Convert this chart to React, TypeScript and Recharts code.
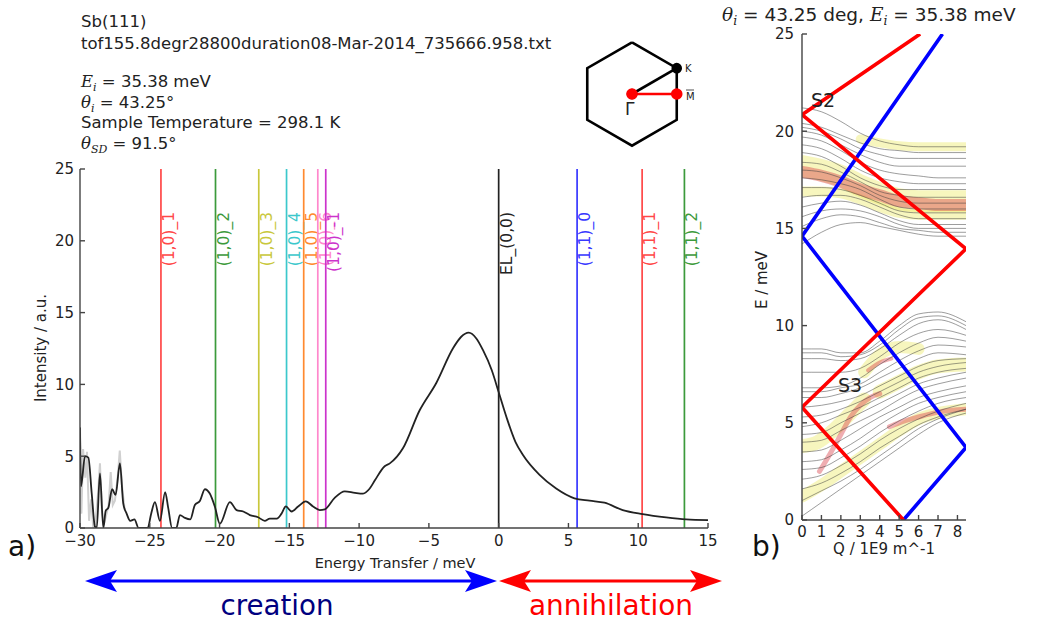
import React from 'react';
import { ComposedChart, Line, XAxis, YAxis, ReferenceLine } from 'recharts';

// ---------------- Panel a) data ----------------
const energyTransfer = [
  -30, -29.93, -29.64, -29.4, -29.16, -28.93, -28.8, -28.57, -28.33, -28.16, -27.97, -27.7, -27.45,
  -27.14, -26.9, -26.66, -26.4, -26.1, -25.8, -25.15, -24.9, -24.63, -24.27, -23.9, -23.68, -23.4,
  -23.1, -22.84, -22.48, -22.1, -21.77, -21.4, -21.05, -20.7, -20.34, -19.98, -19.26, -18.78, -18.3,
  -17.83, -17.24, -16.76, -16.4, -15.9, -15.56, -15.25, -14.84, -14.37, -13.82, -13.3, -12.82, -12.46,
  -11.75, -11.03, -10.3, -9.72, -9.24, -8.88, -8.17, -7.8, -6.86, -5.66, -4.47, -3.28, -2.7, -2.15,
  -1.6, -1.13, -0.5, 0.02, 0.6, 1.2, 1.73, 2.93, 4.12, 5.43, 6.51, 7.58, 8.89, 10.32, 12.0, 13.43, 15,
];
const intensity = [
  7.0, 2.9, 5.0, 4.9, 2.4, 0.1, 0, 3.8, 0, 1.2, 1.4, 2.7, 2.3,
  4.5, 1.7, 1.0, 0.5, 0.6, 0, 0, 1.0, 1.8, 0.5, 2.5, 1.4, 0,
  0, 0.9, 0.7, 0.6, 1.6, 1.9, 2.7, 2.4, 1.5, 0.3, 1.8, 1.25, 1.15,
  0.9, 0.75, 0.5, 0.65, 0.65, 1.0, 1.5, 1.15, 1.5, 1.85, 1.5, 1.25, 1.3,
  2.1, 2.55, 2.45, 2.4, 2.75, 3.3, 4.3, 4.5, 5.55, 8.2, 10.1, 12.5, 13.3, 13.6,
  13.2, 12.4, 11.0, 9.4, 7.6, 6.0, 5.1, 3.7, 2.75, 2.07, 1.9, 1.76, 1.25, 0.97, 0.74, 0.6, 0.55,
];
const noiseEnergy = [-30, -29.9, -29.78, -29.62, -29.5, -29.35, -29.2, -29.05, -28.9, -28.7, -28.57, -28.45, -28.3, -28.15, -27.95, -27.8, -27.65, -27.5, -27.3, -27.15, -27.0, -26.8];
const noiseIntensity = [7, 1, 5.5, 3.5, 5.3, 0.5, 2.0, 0, 0.3, 2.5, 4.5, 1.5, 0.2, 0.8, 1.6, 3.9, 1.6, 1.9, 3.5, 5.4, 3.0, 1.3];

const modeNames = ['(1,0)_1', '(1,0)_2', '(1,0)_3', '(1,0)_4', '(1,0)_5', '(1,0)_6', '(1,0)_-1', 'EL_(0,0)', '(1,1)_0', '(1,1)_1', '(1,1)_2'];
const modeEnergies = [-24.2, -20.29, -17.19, -15.2, -13.97, -12.96, -12.39, 0, 5.62, 10.28, 13.31];
const energyTicks = [-30, -25, -20, -15, -10, -5, 0, 5, 10, 15];
const intensityTicks = [0, 5, 10, 15, 20, 25];

// ---------------- Panel b) data ----------------
const qGrid = [0, 1, 2, 3, 4, 5, 6, 7, 8.44];
const qTicks = [0, 1, 2, 3, 4, 5, 6, 7, 8];
const eTicks = [0, 5, 10, 15, 20, 25];
const upperModes = [
  [21.2, 21.0, 20.5, 19.9, 19.5, 19.3, 19.2, 19.2, 19.2],
  [20.4, 20.2, 19.8, 19.4, 19.1, 19.0, 18.9, 18.9, 18.9],
  [20.2, 20.0, 19.6, 19.1, 18.8, 18.6, 18.6, 18.6, 18.6],
  [20.0, 19.8, 19.3, 18.8, 18.4, 18.2, 18.2, 18.2, 18.2],
  [19.7, 19.5, 19.0, 18.4, 18.0, 17.8, 17.7, 17.6, 17.6],
  [19.3, 19.1, 18.6, 18.0, 17.6, 17.4, 17.3, 17.3, 17.3],
  [18.9, 18.7, 18.2, 17.6, 17.2, 17.0, 17.0, 17.0, 17.0],
  [18.4, 18.3, 17.9, 17.4, 16.9, 16.7, 16.6, 16.6, 16.6],
  [18.0, 17.9, 17.6, 17.2, 16.7, 16.4, 16.3, 16.3, 16.3],
  [17.6, 17.5, 17.3, 17.0, 16.5, 16.1, 16.0, 16.0, 16.0],
  [17.1, 17.1, 17.0, 16.7, 16.3, 15.9, 15.8, 15.8, 15.8],
  [16.6, 16.7, 16.7, 16.5, 16.1, 15.7, 15.5, 15.5, 15.5],
  [16.1, 16.3, 16.4, 16.2, 15.8, 15.4, 15.2, 15.2, 15.2],
  [15.6, 15.9, 16.0, 15.9, 15.6, 15.2, 15.0, 15.0, 15.0],
  [15.1, 15.5, 15.7, 15.6, 15.3, 15.0, 14.9, 14.8, 14.8],
  [14.2, 14.8, 15.2, 15.3, 15.1, 14.9, 14.7, 14.6, 14.6],
];
const lowerModes = [
  [8.8, 8.8, 8.6, 8.6, 9.2, 10.0, 10.6, 10.7, 10.2],
  [8.6, 8.6, 8.4, 8.5, 9.0, 9.8, 10.4, 10.5, 10.0],
  [8.3, 8.3, 8.2, 8.3, 8.8, 9.5, 10.1, 10.3, 9.8],
  [7.6, 7.6, 7.6, 7.8, 8.4, 9.1, 9.6, 9.8, 9.5],
  [6.8, 6.8, 6.9, 7.3, 8.0, 8.6, 9.1, 9.4, 9.2],
  [6.6, 6.6, 6.8, 7.0, 7.6, 8.2, 8.7, 9.0, 8.9],
  [6.3, 6.3, 6.5, 6.8, 7.3, 7.8, 8.3, 8.6, 8.5],
  [5.8, 5.9, 6.1, 6.4, 6.9, 7.4, 7.9, 8.2, 8.3],
  [5.3, 5.4, 5.7, 6.1, 6.6, 7.1, 7.6, 7.9, 8.1],
  [4.8, 5.0, 5.4, 5.8, 6.3, 6.8, 7.3, 7.6, 7.8],
  [4.4, 4.5, 5.0, 5.5, 6.0, 6.5, 7.0, 7.3, 7.6],
  [4.0, 4.1, 4.6, 5.1, 5.6, 6.2, 6.7, 7.0, 7.3],
  [3.5, 3.6, 4.1, 4.7, 5.3, 5.8, 6.3, 6.6, 6.9],
  [3.0, 3.1, 3.6, 4.2, 4.9, 5.5, 6.0, 6.3, 6.6],
  [2.6, 2.7, 3.2, 3.8, 4.5, 5.1, 5.6, 6.0, 6.3],
  [2.1, 2.3, 2.8, 3.4, 4.1, 4.7, 5.2, 5.6, 6.0],
  [1.6, 1.9, 2.4, 3.0, 3.7, 4.3, 4.9, 5.3, 5.7],
  [1.0, 1.5, 2.0, 2.6, 3.3, 4.0, 4.7, 5.2, 5.7],
  [0.2, 0.9, 1.6, 2.3, 3.0, 3.7, 4.4, 5.0, 5.5],
];
// intensity bands (yellow = weak, red = strong)
const yellowBand1Q = [3, 4, 5, 6, 7, 8.44];
const yellowBand1E = [19.6, 19.4, 19.25, 19.2, 19.2, 19.2];
const yellowBand2Q = [0, 1, 2, 3, 4, 5, 6, 7, 8.44];
const yellowBand2E = [18.2, 18.0, 17.7, 17.2, 16.8, 16.5, 16.4, 16.4, 16.4];
const yellowBand3Q = [0, 1, 2, 3, 4, 5, 6, 7, 8.44];
const yellowBand3E = [16.9, 16.9, 16.8, 16.5, 16.1, 15.8, 15.7, 15.7, 15.7];
const yellowBand4Q = [0, 1, 2, 3, 4, 5, 6, 7, 8.44];
const yellowBand4E = [1.2, 1.8, 2.5, 3.2, 3.9, 4.6, 5.2, 5.5, 5.7];
const yellowBand5Q = [0, 0.8, 1.6, 2.4, 3.2];
const yellowBand5E = [3.8, 4.0, 4.6, 5.4, 6.2];
const yellowBand6Q = [3.2, 4, 5, 6];
const yellowBand6E = [7.6, 8.5, 8.9, 8.8];
const yellowBand7Q = [4, 5, 6, 7, 8.44];
const yellowBand7E = [6.6, 7.1, 7.6, 7.9, 8.0];
const redBand1Q = [0, 1, 2, 3, 4, 5, 6, 7, 8.44];
const redBand1E = [17.9, 17.7, 17.4, 17.0, 16.7, 16.4, 16.3, 16.2, 16.2];
const redBand2Q = [4.5, 5, 6, 7, 8.44];
const redBand2E = [4.8, 5.0, 5.3, 5.55, 5.7];
const redBand3Q = [0.9, 1.5, 2, 2.5, 3, 3.5, 4];
const redBand3E = [2.5, 3.5, 4.4, 5.3, 5.9, 6.3, 6.5];
const redBand4Q = [3.4, 4, 4.6];
const redBand4E = [7.7, 8.1, 8.3];
// scan curves
const redScanQ = [5.22, 0, 8.44, 0, 6.08];
const redScanE = [0, 5.8, 13.95, 20.85, 25];
const blueScanQ = [5.22, 8.44, 0, 7.23];
const blueScanE = [0, 3.73, 14.6, 25];

// ---------------- Brillouin zone inset ----------------
const hexX = [0, 0.866, 0.866, 0, -0.866, -0.866, 0];
const hexY = [1, 0.5, -0.5, -1, -0.5, 0.5, 1];
const gammaKX = [0, 0.866];
const gammaKY = [0, 0.5];
const gammaMX = [0, 0.866];
const gammaMY = [0, 0];

// ---------------- helpers ----------------
const FONT = "'DejaVu Sans', 'Bitstream Vera Sans', sans-serif";
const SERIF = "'DejaVu Serif', 'Liberation Serif', serif";
const NARROW = "'DejaVu Sans Condensed', 'Liberation Sans Narrow', 'DejaVu Sans', sans-serif";
const modeColors = ['#ff4848', '#3c9a3c', '#c9c83c', '#3cc8cc', '#ff8a30', '#ff88cc', '#cc33cc', '#222222', '#3838ff', '#ff4848', '#3c9a3c'];
const fmt = (v: number) => String(v).replace('-', '\u2212');
const zip = (xs: number[], ys: number[], kx: string, ky: string) => xs.map((x, i) => ({ [kx]: x, [ky]: ys[i] }));

const mainData = zip(energyTransfer, intensity, 'e', 'i');
const noiseData = zip(noiseEnergy, noiseIntensity, 'e', 'i');

function ModeLabel(props: any) {
  const { viewBox, text, color } = props;
  if (!viewBox) return null;
  const x = viewBox.x + 13;
  const y = viewBox.y + 43;
  return (
    <text x={x} y={y} transform={`rotate(-90 ${x} ${y})`} textAnchor="end" fill={color} fontSize={15.5} fontFamily={FONT}>
      {text}
    </text>
  );
}

const axisStroke = '#444';
const tickStyle = { fill: '#222', fontSize: 15, fontFamily: FONT };

function PanelA() {
  return (
    <ComposedChart width={740} height={430} margin={{ top: 19, right: 32, bottom: 22, left: 20 }} data={mainData}>
      <XAxis xAxisId="b" dataKey="e" type="number" domain={[-30, 15]} ticks={energyTicks} allowDataOverflow interval={0}
        height={30} tickSize={-5} tickMargin={12} stroke={axisStroke} strokeWidth={1.4} tick={tickStyle} tickFormatter={fmt} />
      <XAxis xAxisId="t" orientation="top" dataKey="e" type="number" domain={[-30, 15]} ticks={energyTicks} allowDataOverflow interval={0}
        height={0} tickSize={-5} tick={false} stroke={axisStroke} strokeWidth={1.4} />
      <YAxis yAxisId="l" type="number" domain={[0, 25]} ticks={intensityTicks} allowDataOverflow interval={0}
        width={60} tickSize={-5} tickMargin={11} stroke={axisStroke} strokeWidth={1.4} tick={tickStyle} />
      <YAxis yAxisId="r" orientation="right" type="number" domain={[0, 25]} ticks={intensityTicks} allowDataOverflow interval={0}
        width={0} tickSize={-5} tick={false} stroke={axisStroke} strokeWidth={1.4} />
      {modeEnergies.map((m, k) => (
        <ReferenceLine key={modeNames[k]} xAxisId="b" yAxisId="l" x={m} stroke={modeColors[k]} strokeWidth={1.7}
          label={<ModeLabel text={modeNames[k]} color={modeColors[k]} />} />
      ))}
      <Line xAxisId="b" yAxisId="l" data={noiseData} dataKey="i" type="linear" stroke="#d0d0d0" strokeWidth={2}
        dot={false} activeDot={false} isAnimationActive={false} />
      <Line xAxisId="b" yAxisId="l" dataKey="i" type="monotone" stroke="#222" strokeWidth={1.8}
        dot={false} activeDot={false} isAnimationActive={false} />
    </ComposedChart>
  );
}

function bandLine(key: string, qs: number[], es: number[], color: string, width: number) {
  return (
    <Line key={key} xAxisId="b" yAxisId="l" data={zip(qs, es, 'q', 'e')} dataKey="e" type="monotone" stroke={color}
      strokeWidth={width} strokeLinecap="round" dot={false} activeDot={false} isAnimationActive={false} />
  );
}

function PanelB() {
  const yellow = 'rgba(238,236,110,0.45)';
  const red = 'rgba(215,50,60,0.4)';
  const grey = 'rgba(60,60,60,0.5)';
  return (
    <ComposedChart width={240} height={560} margin={{ top: 34, right: 14, bottom: 15, left: 0 }}>
      <XAxis xAxisId="b" dataKey="q" type="number" domain={[0, 8.44]} ticks={qTicks} allowDataOverflow interval={0}
        height={25} tickSize={-5} tickMargin={11} stroke={axisStroke} strokeWidth={1.4} tick={tickStyle} />
      <XAxis xAxisId="t" orientation="top" dataKey="q" type="number" domain={[0, 8.44]} ticks={qTicks} allowDataOverflow interval={0}
        height={0} tickSize={-5} tick={false} stroke={axisStroke} strokeWidth={1.4} />
      <YAxis yAxisId="l" type="number" domain={[0, 25]} ticks={eTicks} allowDataOverflow interval={0}
        width={62} tickSize={-5} tickMargin={13} stroke={axisStroke} strokeWidth={1.4} tick={tickStyle} />
      <YAxis yAxisId="r" orientation="right" type="number" domain={[0, 25]} ticks={eTicks} allowDataOverflow interval={0}
        width={0} tickSize={-5} tick={false} stroke={axisStroke} strokeWidth={1.4} />
      {bandLine('y1', yellowBand1Q, yellowBand1E, yellow, 9)}
      {bandLine('y2', yellowBand2Q, yellowBand2E, yellow, 22)}
      {bandLine('y3', yellowBand3Q, yellowBand3E, yellow, 10)}
      {bandLine('y4', yellowBand4Q, yellowBand4E, yellow, 12)}
      {bandLine('y5', yellowBand5Q, yellowBand5E, yellow, 14)}
      {bandLine('y6', yellowBand6Q, yellowBand6E, yellow, 12)}
      {bandLine('y7', yellowBand7Q, yellowBand7E, yellow, 14)}
      {bandLine('r1', redBand1Q, redBand1E, red, 12)}
      {bandLine('r2', redBand2Q, redBand2E, red, 5)}
      {bandLine('r3', redBand3Q, redBand3E, red, 5)}
      {bandLine('r4', redBand4Q, redBand4E, red, 4)}
      {upperModes.map((m, k) => bandLine('u' + k, qGrid, m, grey, 1))}
      {lowerModes.map((m, k) => bandLine('lo' + k, qGrid, m, grey, 1))}
      <Line xAxisId="b" yAxisId="l" data={zip(blueScanQ, blueScanE, 'q', 'e')} dataKey="e" type="linear" stroke="#0000ff"
        strokeWidth={3.6} dot={false} activeDot={false} isAnimationActive={false} />
      <Line xAxisId="b" yAxisId="l" data={zip(redScanQ, redScanE, 'q', 'e')} dataKey="e" type="linear" stroke="#ff0000"
        strokeWidth={3.6} dot={false} activeDot={false} isAnimationActive={false} />
    </ComposedChart>
  );
}

function Hexagon() {
  return (
    <ComposedChart width={124} height={124} margin={{ top: 0, right: 0, bottom: 0, left: 0 }}>
      <XAxis type="number" dataKey="x" domain={[-1.2, 1.2]} hide />
      <YAxis type="number" domain={[-1.2, 1.2]} hide />
      <Line data={zip(hexX, hexY, 'x', 'y')} dataKey="y" type="linear" stroke="#000" strokeWidth={2.6}
        dot={false} activeDot={false} isAnimationActive={false} />
      <Line data={zip(gammaKX, gammaKY, 'x', 'y')} dataKey="y" type="linear" stroke="#000" strokeWidth={2.6}
        dot={{ r: 4, fill: '#000', stroke: '#000' }} activeDot={false} isAnimationActive={false} />
      <Line data={zip(gammaMX, gammaMY, 'x', 'y')} dataKey="y" type="linear" stroke="#ff0000" strokeWidth={2.6}
        dot={{ r: 4.5, fill: '#ff0000', stroke: '#ff0000' }} activeDot={false} isAnimationActive={false} />
    </ComposedChart>
  );
}

export default function App() {
  const infoSize = 16.5;
  const lineH = 20.5;
  return (
    <div style={{ position: 'absolute', left: 0, top: 0, width: 1046, height: 621, background: '#fff', overflow: 'hidden' }}>
      <div style={{ position: 'absolute', left: 0, top: 150 }}><PanelA /></div>
      <div style={{ position: 'absolute', left: 740, top: 0 }}><PanelB /></div>
      <div style={{ position: 'absolute', left: 570, top: 32 }}><Hexagon /></div>
      <svg width={1046} height={621} style={{ position: 'absolute', left: 0, top: 0, pointerEvents: 'none' }}>
        <g fontFamily={FONT} fill="#222" fontSize={infoSize}>
          <text x={81} y={27}>Sb(111)</text>
          <text x={81} y={49}>tof155.8degr28800duration08-Mar-2014_735666.958.txt</text>
          <text x={81} y={87}>
            <tspan fontFamily={SERIF} fontStyle="italic">E</tspan>
            <tspan fontFamily={SERIF} fontStyle="italic" fontSize={11} dy={4}>i</tspan>
            <tspan dy={-4}> = 35.38 meV</tspan>
          </text>
          <text x={81} y={87 + lineH}>
            <tspan fontFamily={SERIF} fontStyle="italic">θ</tspan>
            <tspan fontFamily={SERIF} fontStyle="italic" fontSize={11} dy={4}>i</tspan>
            <tspan dy={-4}> = 43.25°</tspan>
          </text>
          <text x={81} y={87 + 2 * lineH}>Sample Temperature = 298.1 K</text>
          <text x={81} y={87 + 3 * lineH}>
            <tspan fontFamily={SERIF} fontStyle="italic">θ</tspan>
            <tspan fontFamily={SERIF} fontStyle="italic" fontSize={11} dy={4}>SD</tspan>
            <tspan dy={-4}> = 91.5°</tspan>
          </text>
        </g>
        {/* Brillouin zone labels */}
        <g fontFamily={FONT} fill="#222">
          <text x={685} y={72} fontSize={10}>K</text>
          <text x={686} y={100} fontSize={10}>M</text>
          <line x1={686} x2={694} y1={90} y2={90} stroke="#222" strokeWidth={0.8} />
          <text x={625} y={115} fontSize={17}>Γ</text>
        </g>
        {/* Panel a axis labels */}
        <text x={395} y={568} textAnchor="middle" fontFamily={FONT} fontSize={14.5} fill="#222">Energy Transfer / meV</text>
        <text x={46} y={348} transform="rotate(-90 46 348)" textAnchor="middle" fontFamily={FONT} fontSize={15} fill="#222">Intensity / a.u.</text>
        <text x={8} y={556} fontFamily={FONT} fontSize={28} fill="#111">a)</text>
        {/* Panel b labels */}
        <text x={722} y={21} fontFamily={FONT} fontSize={18.5} fill="#222">
          <tspan fontFamily={SERIF} fontStyle="italic">θ</tspan>
          <tspan fontFamily={SERIF} fontStyle="italic" fontSize={12.5} dy={4}>i</tspan>
          <tspan dy={-4}> = 43.25 deg, </tspan>
          <tspan fontFamily={SERIF} fontStyle="italic">E</tspan>
          <tspan fontFamily={SERIF} fontStyle="italic" fontSize={12.5} dy={4}>i</tspan>
          <tspan dy={-4}> = 35.38 meV</tspan>
        </text>
        <text x={767} y={280} transform="rotate(-90 767 280)" textAnchor="middle" fontFamily={FONT} fontSize={15} fill="#222">E / meV</text>
        <text x={884} y={554} textAnchor="middle" fontFamily={FONT} fontSize={15} fill="#222">Q / 1E9 m^-1</text>
        <text x={752} y={556} fontFamily={FONT} fontSize={28} fill="#111">b)</text>
        <text x={811} y={107} fontFamily={FONT} fontSize={19} fill="#222">S2</text>
        <text x={838} y={392} fontFamily={FONT} fontSize={19} fill="#222">S3</text>
        {/* creation / annihilation arrows */}
        <line x1={105} x2={477} y1={581} y2={581} stroke="#0000ff" strokeWidth={3} />
        <polygon points="85,581 117,570 110,581 117,592" fill="#0000ff" />
        <polygon points="497,581 465,570 472,581 465,592" fill="#0000ff" />
        <line x1={519} x2={702} y1={581} y2={581} stroke="#ff0000" strokeWidth={3} />
        <polygon points="499,581 531,570 524,581 531,592" fill="#ff0000" />
        <polygon points="722,581 690,570 697,581 690,592" fill="#ff0000" />
        <text x={277} y={615} textAnchor="middle" fontFamily={NARROW}
          fontSize={28} fill="#000080" textLength={113} lengthAdjust="spacingAndGlyphs">creation</text>
        <text x={611} y={615} textAnchor="middle" fontFamily={NARROW}
          fontSize={28} fill="#ff0000" textLength={164} lengthAdjust="spacingAndGlyphs">annihilation</text>
      </svg>
    </div>
  );
}
